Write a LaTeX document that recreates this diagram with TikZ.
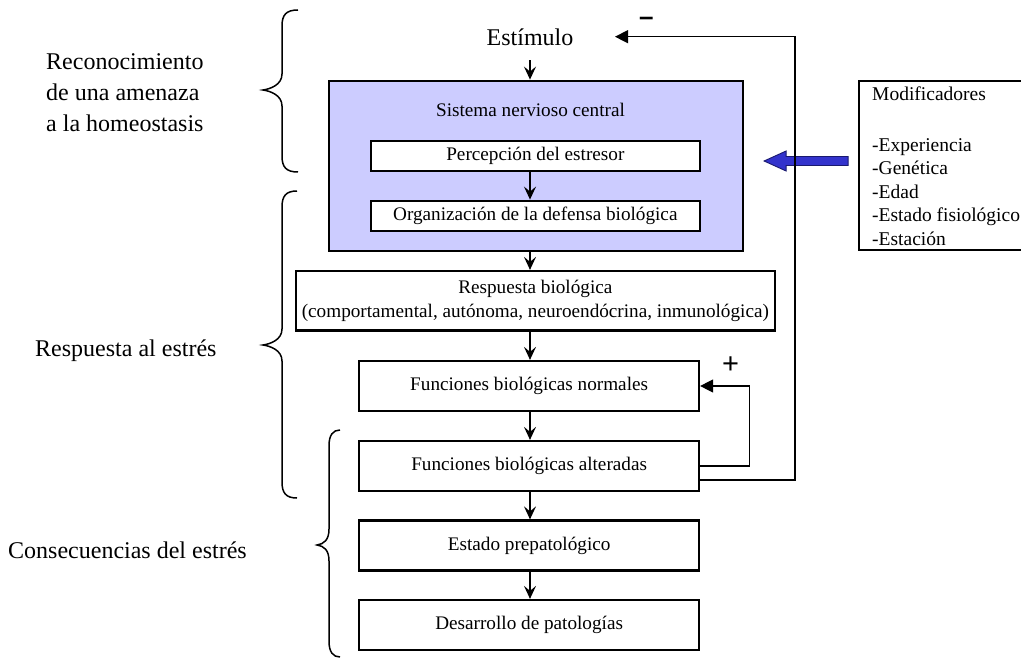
\documentclass[tikz,border=0pt]{standalone}
\usepackage{fontspec}
\setmainfont{Liberation Serif}
\newfontfamily\signfont{Liberation Sans}
\usetikzlibrary{arrows.meta,calc}
\definecolor{sncfill}{RGB}{204,204,255}
\definecolor{arrowblue}{RGB}{51,51,204}
\definecolor{arrowedge}{RGB}{25,25,110}

% curly brace opening to the right:
% #1 x of the hooks, #2 x of the stem, #3 x of the point,
% #4 top, #5 point, #6 bottom
\newcommand{\curlybrace}[6]{%
  \draw[brace] (#1,#4) .. controls (#2+4,#4) and (#2,#4+5) .. (#2,#4+16)
    -- (#2,#5-16) .. controls (#2,#5-5) and (#3+7,#5-1) .. (#3,#5)
    .. controls (#3+7,#5+1) and (#2,#5+5) .. (#2,#5+16)
    -- (#2,#6-16) .. controls (#2,#6-5) and (#2+4,#6) .. (#1,#6);}

\begin{document}
\begin{tikzpicture}[x=1pt,y=-1pt,
  box/.style={draw=black, line width=2.2pt, fill=white, inner sep=0pt,
    align=center, font=\fontsize{19.2}{23.3}\selectfont},
  boxtext/.style={inner sep=0pt, font=\fontsize{19.2}{23.3}\selectfont},
  flow/.style={line width=1.6pt, -{Stealth[length=13pt,width=12pt,inset=5pt]}},
  fb/.style={line width=1.3pt, -{Triangle[length=13pt,width=13pt]}},
  side/.style={inner sep=0pt, font=\fontsize{24}{31}\selectfont},
  brace/.style={line width=1.5pt},
  sign/.style={inner sep=0pt}]

\clip (0,0) rectangle (1021,658);

% column of the main flow
\coordinate (spine) at (530,0);

% stimulus and central nervous system
\node[side, anchor=base] (est) at (530,46) {Estímulo};
\node[draw=black, line width=2.2pt, fill=sncfill, inner sep=0pt,
      minimum width=414pt, minimum height=170pt] (snc) at (535.7,165.7) {};
\node[boxtext, anchor=base] (snct) at (530.5,116.7) {Sistema nervioso central};
\node[box, minimum width=329.3pt, minimum height=30.3pt] (perc) at (535.35,155.85)
  {Percepción del estresor};
\node[box, minimum width=329.3pt, minimum height=30pt] (org) at (535.35,215.7)
  {Organización de la defensa biológica};

% response chain
\node[box, minimum width=479.3pt, minimum height=59.5pt] (resp) at (535.35,300.75)
  {Respuesta biológica\\(comportamental, autónoma, neuroendócrina, inmunológica)};
\node[box, minimum width=339.7pt, minimum height=50pt] (fn) at (529.15,386)
  {Funciones biológicas normales};
\node[box, minimum width=339.7pt, minimum height=50pt] (fa) at (529.15,466)
  {Funciones biológicas alteradas};
\node[box, minimum width=339.7pt, minimum height=50pt] (pre) at (529.15,545.5)
  {Estado prepatológico};
\node[box, minimum width=339.7pt, minimum height=50pt] (des) at (529.15,625)
  {Desarrollo de patologías};

% modifiers
\node[draw=black, line width=1.8pt, inner sep=0pt,
      minimum width=166pt, minimum height=169pt] (mod) at (942,165.5) {};
\node[inner sep=0pt, anchor=north west, align=left,
      font=\fontsize{19.5}{23.6}\selectfont] (modtxt) at (872,86.5)
  {Modificadores\\[27.1pt]-Experiencia\\-Genética\\-Edad\\-Estado fisiológico\\-Estación};

% block arrow from the modifiers towards the nervous system
\coordinate (btip) at ($(snc.east)+(20.3,-4.7)$);
\filldraw[fill=arrowblue, draw=arrowedge, line width=0.9pt]
  (btip) -- ++(22,-10) -- ++(0,5.5) -- ++(62,0) -- ++(0,9)
  -- ++(-62,0) -- ++(0,5.5) -- cycle;

% main flow
\draw[flow] ($(est.south -| spine)+(0,14)$) -- (snc.north -| spine);
\draw[flow] (perc.south -| spine) -- (org.north -| spine);
\draw[flow] (snc.south -| spine) -- (resp.north -| spine);
\draw[flow] (resp.south -| spine) -- (fn.north -| spine);
\draw[flow] (fn.south -| spine) -- (fa.north -| spine);
\draw[flow] (fa.south -| spine) -- (pre.north -| spine);
\draw[flow] (pre.south -| spine) -- (des.north -| spine);

% positive feedback
\coordinate (posx) at (749.3,0);
\draw[fb] (fa.east) -- (fa.east -| posx) |- (fn.east);
\node[sign, font=\signfont\fontsize{29}{29}\selectfont] (plus) at (730.5,365) {+};

% negative feedback
\coordinate (negx) at (795,0);
\coordinate (negin) at (615,36.7);
\coordinate (negstart) at ($(fa.east)+(0,14)$);
\draw[fb] (negstart) -- (negstart -| negx) |- (negin);
\node[sign, font=\signfont\bfseries\fontsize{26}{26}\selectfont] (minus) at (646.3,21.5) {–};

% phases on the left
\curlybrace{298}{282}{263}{10}{90}{172}
\curlybrace{297}{282}{263}{191}{345}{498}
\curlybrace{340}{329}{317}{430}{545}{657}

\node[side, anchor=north west, align=left] (recog) at (46,53.4)
  {Reconocimiento\\de una amenaza\\a la homeostasis};
\node[side, anchor=base west] (stress) at (35,356.7) {Respuesta al estrés};
\node[side, anchor=base west] (conseq) at (8,558) {Consecuencias del estrés};
\end{tikzpicture}
\end{document}
